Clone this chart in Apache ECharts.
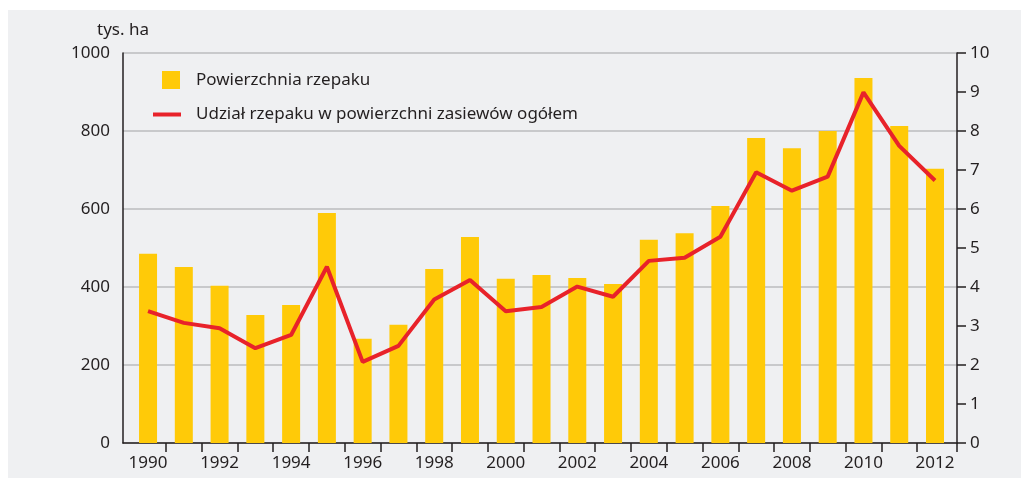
<!DOCTYPE html>
<html>
<head>
<meta charset="utf-8">
<script src="https://cdn.jsdelivr.net/npm/echarts@6/dist/echarts.min.js"></script>
<style>
  body { margin: 0; background: #fff; }
  #chart {
    position: absolute;
    left: 8px;
    top: 10px;
    width: 1013px;
    height: 468px;
    background: #eff0f2;
  }
</style>
</head>
<body>
<div id="chart"></div>
<script>
var years = [1990, 1991, 1992, 1993, 1994, 1995, 1996, 1997, 1998, 1999, 2000, 2001,
  2002, 2003, 2004, 2005, 2006, 2007, 2008, 2009, 2010, 2011, 2012];
// powierzchnia rzepaku, tys. ha
var area = [485, 451, 403, 328, 354, 590, 267, 303, 446, 528, 421, 431,
  423, 408, 521, 538, 608, 782, 756, 800, 936, 813, 703];
// udział rzepaku w powierzchni zasiewów ogółem, %
var share = [3.38, 3.08, 2.94, 2.43, 2.77, 4.52, 2.08, 2.49, 3.68, 4.18, 3.38, 3.49,
  4.01, 3.75, 4.67, 4.75, 5.29, 6.94, 6.47, 6.83, 8.99, 7.62, 6.73];
var yearLabels = [1990, 1992, 1994, 1996, 1998, 2000, 2002, 2004, 2006, 2008, 2010, 2012];

var textColor = "#231f20";
var font = "Noto Sans";

var xMin = 1989.3;
var xMax = 2012.615;
var tickValues = [];
for (var i = 0; i < years.length - 1; i++) {
  tickValues.push(years[i] + 0.5);
}
tickValues.push(xMax);

var myChart = echarts.init(document.getElementById("chart"));
myChart.setOption({
  animation: false,
  textStyle: { fontFamily: font, color: textColor },
  grid: { left: 115, right: 64, top: 43, bottom: 35 },
  legend: [
    {
      data: ["Powierzchnia rzepaku"],
      left: 154,
      top: 61,
      padding: 0,
      itemWidth: 18,
      itemHeight: 18,
      icon: "rect",
      textStyle: { fontSize: 17, color: textColor, fontFamily: font, padding: [0, 0, 0, 11] }
    },
    {
      data: ["Udział rzepaku w powierzchni zasiewów ogółem"],
      left: 145,
      top: 96,
      padding: 0,
      itemWidth: 28,
      itemHeight: 4,
      icon: "rect",
      textStyle: { fontSize: 17, color: textColor, fontFamily: font, padding: [0, 0, 0, 10] }
    }
  ],
  xAxis: {
    type: "value",
    min: xMin,
    max: xMax,
    axisLine: { show: true, lineStyle: { color: textColor, width: 1.5 } },
    axisTick: {
      show: true,
      length: 9,
      customValues: tickValues,
      lineStyle: { color: textColor, width: 1.5 }
    },
    axisLabel: {
      customValues: yearLabels,
      margin: 12,
      fontSize: 17,
      color: textColor,
      formatter: function (v) { return String(Math.round(v)); }
    },
    splitLine: { show: false }
  },
  yAxis: [
    {
      type: "value",
      min: 0,
      max: 1000,
      interval: 200,
      name: "tys. ha",
      nameGap: 14,
      nameTextStyle: { fontSize: 17, color: textColor },
      axisLine: { show: true, lineStyle: { color: textColor, width: 1.5 } },
      axisTick: { show: false },
      axisLabel: {
        margin: 13,
        fontSize: 17,
        color: textColor,
        formatter: function (v) { return String(v); }
      },
      splitLine: { show: true, lineStyle: { color: "#c8c9cb", width: 2 } }
    },
    {
      type: "value",
      position: "right",
      min: 0,
      max: 10,
      interval: 1,
      axisLine: { show: true, lineStyle: { color: textColor, width: 1.5 } },
      axisTick: { show: true, length: 9, lineStyle: { color: textColor, width: 1.5 } },
      axisLabel: { margin: 13, fontSize: 17, color: textColor },
      splitLine: { show: false }
    }
  ],
  series: [
    {
      name: "Powierzchnia rzepaku",
      type: "bar",
      barWidth: 18,
      data: years.map(function (y, i) { return [y, area[i]]; }),
      itemStyle: { color: "#ffca08" }
    },
    {
      name: "Udział rzepaku w powierzchni zasiewów ogółem",
      type: "line",
      yAxisIndex: 1,
      symbol: "none",
      data: years.map(function (y, i) { return [y, share[i]]; }),
      lineStyle: { color: "#e8222a", width: 4 },
      itemStyle: { color: "#e8222a" }
    }
  ]
});
</script>
</body>
</html>
